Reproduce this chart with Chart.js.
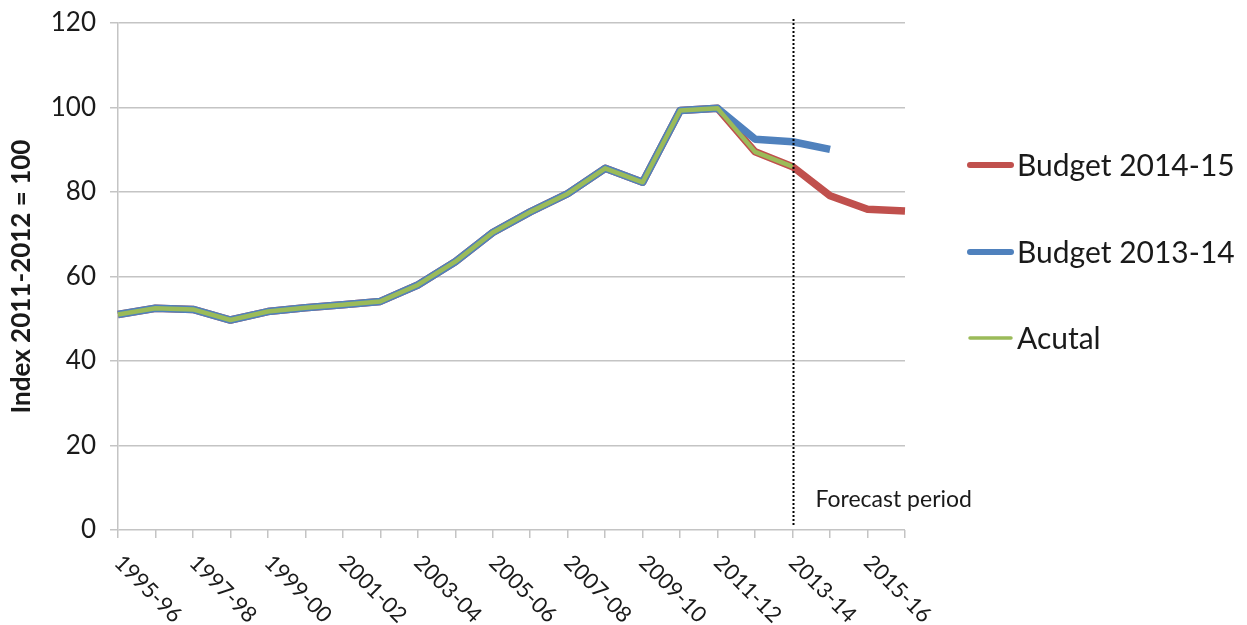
<!DOCTYPE html>
<html>
<head>
<meta charset="utf-8">
<script src="https://cdn.jsdelivr.net/npm/chart.js@4/dist/chart.umd.min.js"></script>
<style>
  html,body{margin:0;padding:0;background:#fff;}
  #wrap{width:1247px;height:625px;position:relative;}
</style>
</head>
<body>
<div id="wrap"><canvas id="c" width="1247" height="625"></canvas></div>
<script>
const years = ["1995-96","1996-97","1997-98","1998-99","1999-00","2000-01","2001-02","2002-03",
  "2003-04","2004-05","2005-06","2006-07","2007-08","2008-09","2009-10","2010-11",
  "2011-12","2012-13","2013-14","2014-15","2015-16","2016-17"];

const actual = [51.0,52.5,52.2,49.7,51.7,52.6,53.3,54.1,58.0,63.5,70.4,75.3,79.6,85.6,82.3,99.3,99.8,89.5,86.0,null,null,null];
const budget1314 = [51.0,52.5,52.2,49.7,51.7,52.6,53.3,54.1,58.0,63.5,70.4,75.3,79.6,85.6,82.3,99.3,99.8,92.5,91.9,90.1,null,null];
const budget1415 = [51.0,52.5,52.2,49.7,51.7,52.6,53.3,54.1,58.0,63.5,70.4,75.3,79.6,85.6,82.3,99.3,99.8,89.5,86.0,79.1,75.9,75.5];

const yTicks = [0,20,40,60,80,100,120];
const forecastStart = "2013-14";

const COLORS = { b1415:"#C0504D", b1314:"#4F81BD", actual:"#9BBB59", grid:"#c4c4c4", text:"#1a1a1a" };
const FONT = "Lato, 'Open Sans', sans-serif";

// x labels go down to the right, one every two years
const xLabelsPlugin = {
  id:"xLabels",
  afterDraw(chart){
    const ctx = chart.ctx, xs = chart.scales.x, area = chart.chartArea;
    ctx.save();
    ctx.font = `22px ${FONT}`;
    ctx.fillStyle = COLORS.text;
    ctx.textAlign = "left";
    ctx.textBaseline = "middle";
    years.forEach((y,i) => {
      if (i % 2) return;
      const x = xs.getPixelForValue(i);
      ctx.save();
      ctx.translate(x, area.bottom + 29);
      ctx.rotate(Math.PI/4);
      ctx.fillText(y, 0, 0);
      ctx.restore();
    });
    ctx.restore();
  }
};

const forecastPlugin = {
  id:"forecast",
  afterDatasetsDraw(chart){
    const ctx = chart.ctx, xs = chart.scales.x, area = chart.chartArea;
    const x = Math.round(xs.getPixelForValue(years.indexOf(forecastStart))) + 0.5;
    ctx.save();
    ctx.strokeStyle = "#000";
    ctx.lineWidth = 2;
    ctx.setLineDash([2,2]);
    ctx.beginPath();
    ctx.moveTo(x, area.top - 4);
    ctx.lineTo(x, area.bottom - 5);
    ctx.stroke();
    ctx.setLineDash([]);
    ctx.font = `23px ${FONT}`;
    ctx.fillStyle = COLORS.text;
    ctx.textBaseline = "middle";
    ctx.fillText("Forecast period", x + 22, area.bottom - 30);
    ctx.restore();
  }
};

const legendPlugin = {
  id:"sideLegend",
  afterDraw(chart){
    const ctx = chart.ctx;
    const rows = [165, 252, 338];
    ctx.save();
    ctx.font = `30px ${FONT}`;
    ctx.textBaseline = "middle";
    chart.data.datasets.forEach((ds,i) => {
      const y = rows[i];
      ctx.strokeStyle = ds.borderColor;
      ctx.lineWidth = ds.legendWidth;
      ctx.lineCap = "round";
      ctx.beginPath();
      ctx.moveTo(970, y); ctx.lineTo(1011, y);
      ctx.stroke();
      ctx.fillStyle = COLORS.text;
      ctx.fillText(ds.label, 1017, y + 1);
    });
    ctx.restore();
  }
};

function build(){
  new Chart(document.getElementById("c"), {
    type:"line",
    data:{
      labels: years,
      datasets:[
        {label:"Budget 2014-15", data:budget1415, borderColor:COLORS.b1415, borderWidth:7.5, legendWidth:6, order:3},
        {label:"Budget 2013-14", data:budget1314, borderColor:COLORS.b1314, borderWidth:7.5, legendWidth:6, order:2},
        {label:"Acutal", data:actual, borderColor:COLORS.actual, borderWidth:4.5, legendWidth:3.5, order:1},
      ].map(d => Object.assign({pointRadius:0, tension:0, fill:false, borderJoinStyle:"round", borderCapStyle:"butt", spanGaps:false}, d)),
    },
    options:{
      responsive:false, animation:false,
      layout:{ padding:{ top:23, right:342, left:0, bottom:0 } },
      plugins:{ legend:{display:false}, tooltip:{enabled:false} },
      scales:{
        x:{
          offset:false,
          grid:{ drawOnChartArea:false, drawTicks:true, tickLength:8, color:COLORS.grid, lineWidth:1.5 },
          border:{ display:false },
          ticks:{ autoSkip:false, maxRotation:0, callback:()=>"" },
          afterFit(s){ s.height = 95; s.paddingLeft = 0; s.paddingRight = 0; }
        },
        y:{
          min:0, max:120,
          afterBuildTicks(s){ s.ticks = yTicks.map(v => ({value:v})); },
          grid:{ color:COLORS.grid, lineWidth:1.5, tickLength:8 },
          border:{ color:COLORS.grid, width:1.5 },
          ticks:{ font:{family:FONT, size:26}, color:COLORS.text, padding:14 },
          title:{ display:true, text:"Index 2011-2012 = 100", font:{family:FONT, size:26, weight:"bold"}, color:COLORS.text, padding:{top:6,bottom:0} },
          afterFit(s){ s.width = 118; s.paddingTop = 0; s.paddingBottom = 0; }
        }
      }
    },
    plugins:[forecastPlugin, xLabelsPlugin, legendPlugin]
  });
}

if (document.fonts && document.fonts.load) {
  Promise.all([document.fonts.load("26px Lato"), document.fonts.load("bold 26px Lato")]).then(build, build);
} else build();
</script>
</body>
</html>
